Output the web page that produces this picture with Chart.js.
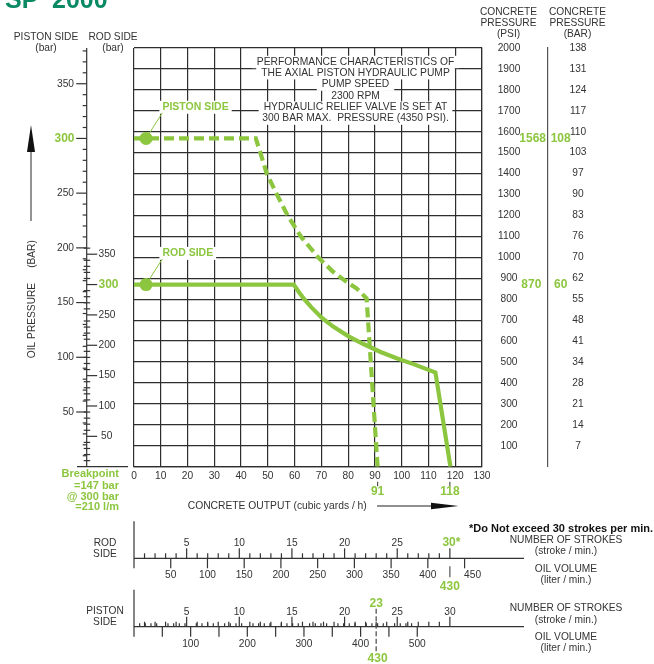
<!DOCTYPE html>
<html>
<head>
<meta charset="utf-8">
<script src="https://cdn.jsdelivr.net/npm/chart.js@4.4.1/dist/chart.umd.min.js"></script>
<style>
  html, body { margin: 0; background: #fff; }
  canvas { display: block; }
</style>
</head>
<body>
<canvas id="chart" width="654" height="664"></canvas>
<script>
const GREEN = '#8cc63f';
const INK = '#333';
const FONT = '"Liberation Sans", Arial, Helvetica, sans-serif';

// concrete output (cubic yards / h) against concrete pressure (psi)
const pistonOutput = [0, 45.5, 47.2, 49.6, 53.4, 57.4, 62.3, 68.8, 74.4, 79.4, 83.1, 86.9, 91];
const pistonPsi    = [1568, 1568, 1500, 1400, 1300, 1200, 1100, 1000, 931, 883, 852, 804, 0];
const rodOutput = [0, 59.7, 61.5, 63.6, 66.2, 70.1, 74.4, 80, 85.7, 91.9, 98.1, 104.4, 109.3, 112.6, 118.2];
const rodPsi    = [870, 870, 836, 800, 762, 712, 669, 624, 586, 549, 518, 490, 466, 450, 0];
const markerOutput = [4.5, 4.5];
const markerPsi = [1568, 870];

// right hand axes: psi ticks and the bar value printed beside each
const psiMax = 2000;
const barLabels = [7, 14, 21, 28, 34, 41, 48, 55, 62, 70, 76, 83, 90, 97, 103, 110, 117, 124, 131, 138];

// left hand oil pressure axes
const pistonBarTicks = [50, 100, 150, 200, 250, 300, 350];
const rodBarTicks = [50, 100, 150, 200, 250, 300, 350];
const PISTON_PSI_PER_BAR = 1568 / 300;
const ROD_PSI_PER_BAR = 870 / 300;

// bottom rulers: strokes and oil volume tied to the output axis
const strokeLabels = [5, 10, 15, 20, 25, 30];
const rodVolumeLabels = [50, 100, 150, 200, 250, 300, 350, 400, 450];
const pistonVolumeLabels = [100, 200, 300, 400, 500];
const OUT_PER_STROKE = 118 / 30;
const ROD_OUT_PER_LITRE = 118 / 430;
const PISTON_OUT_PER_LITRE = 91 / 430;

const noteLines = [
  'PERFORMANCE CHARACTERISTICS OF',
  'THE AXIAL PISTON HYDRAULIC PUMP',
  'PUMP SPEED',
  '2300 RPM',
  'HYDRAULIC RELIEF VALVE IS SET AT',
  '300 BAR MAX.  PRESSURE (4350 PSI).',
];
const noteY = [62, 73.2, 84.6, 96, 107.6, 118.6];

const f = (size, bold) => `${bold ? 'bold ' : ''}${size}px ${FONT}`;

function text(ctx, str, x, y, font, color, align) {
  ctx.font = font;
  ctx.fillStyle = color;
  ctx.textAlign = align || 'center';
  ctx.textBaseline = 'middle';
  ctx.fillText(str, x, y);
}

function line(ctx, x1, y1, x2, y2) {
  ctx.beginPath();
  ctx.moveTo(x1, y1);
  ctx.lineTo(x2, y2);
  ctx.stroke();
}

const annotate = {
  id: 'annotate',
  beforeDatasetsDraw(chart) {
    const ctx = chart.ctx;
    const X = v => chart.scales.x.getPixelForValue(v);
    const Y = v => chart.scales.y.getPixelForValue(v);
    ctx.save();

    // note block, each line knocks out the grid behind it
    ctx.font = f(10.3);
    noteLines.forEach((s, i) => {
      const w = ctx.measureText(s).width;
      ctx.fillStyle = '#fff';
      ctx.fillRect(355.5 - w / 2 - 5, noteY[i] - 6.2, w + 10, 12.4);
    });
    noteLines.forEach((s, i) => text(ctx, s, 355.5, noteY[i], f(10.3), INK));

    // curve labels with leaders to the start markers
    const labels = [['PISTON SIDE', 1717, markerPsi[0]], ['ROD SIDE', 1019, markerPsi[1]]];
    labels.forEach(([s, psi, target]) => {
      const lx = X(10.6), ly = Y(psi);
      ctx.font = f(10.5, true);
      const w = ctx.measureText(s).width;
      ctx.fillStyle = '#fff';
      ctx.fillRect(lx - 3, ly - 6.5, w + 6, 13);
      text(ctx, s, lx, ly, f(10.5, true), GREEN, 'left');
      ctx.strokeStyle = GREEN;
      ctx.lineWidth = 1;
      line(ctx, lx, ly + 5.5, X(markerOutput[0]), Y(target));
    });
    ctx.restore();
  },
  afterDraw(chart) {
    const ctx = chart.ctx;
    const area = chart.chartArea;
    const X = v => chart.scales.x.getPixelForValue(v);
    const Y = v => chart.scales.y.getPixelForValue(v);
    ctx.save();

    // title, cut at the top edge
    text(ctx, 'SP', 5, 1, f(25, true), '#0a8a64', 'left');
    text(ctx, '2000', 52, 1, f(25, true), '#0a8a64', 'left');

    // headers
    text(ctx, 'PISTON SIDE', 46, 37, f(10.2), INK);
    text(ctx, '(bar)', 46, 47.7, f(10.2), INK);
    text(ctx, 'ROD SIDE', 113, 37, f(10.2), INK);
    text(ctx, '(bar)', 113, 48, f(10.2), INK);
    [['CONCRETE', 12.3], ['PRESSURE', 23.3]].forEach(([s, y]) => {
      text(ctx, s, 508.5, y, f(10.2), INK);
      text(ctx, s, 577.5, y, f(10.2), INK);
    });
    text(ctx, '(PSI)', 508.5, 33.7, f(10.2), INK);
    text(ctx, '(BAR)', 577.5, 33.7, f(10.2), INK);

    // green reference values on the pressure axes
    text(ctx, '1568', 532.7, Y(1568), f(12, true), GREEN);
    text(ctx, '108', 560.7, Y(1568), f(12, true), GREEN);
    text(ctx, '870', 531.3, Y(870), f(12, true), GREEN);
    text(ctx, '60', 560.7, Y(870), f(12, true), GREEN);

    // left oil pressure axes (piston side outside, rod side inside)
    const axisX = 86.7;
    ctx.strokeStyle = INK;
    ctx.lineWidth = 1.2;
    line(ctx, axisX, area.top, axisX, area.bottom);
    line(ctx, 77, area.bottom, 128, area.bottom);
    for (let b = 10; b <= 380; b += 10) {
      const y = Y(b * PISTON_PSI_PER_BAR);
      line(ctx, axisX - (b % 50 === 0 ? 10.5 : 4), y, axisX, y);
    }
    pistonBarTicks.forEach(b => {
      const y = Y(b * PISTON_PSI_PER_BAR);
      if (b === 300) text(ctx, '300', 74.5, y, f(12, true), GREEN, 'right');
      else text(ctx, String(b), 74, y, f(10.2), INK, 'right');
    });
    for (let b = 10; b <= 360; b += 10) {
      const y = Y(b * ROD_PSI_PER_BAR);
      if (b % 50 === 0) line(ctx, axisX, y, axisX + 10.5, y);
      else line(ctx, axisX - 3, y, axisX + 3.5, y);
    }
    rodBarTicks.forEach(b => {
      const y = Y(b * ROD_PSI_PER_BAR);
      if (b === 300) text(ctx, '300', 98.5, y, f(12, true), GREEN, 'left');
      else text(ctx, String(b), b === 50 ? 101 : 98.5, y, f(10.2), INK, 'left');
    });

    // rotated axis title and arrow
    ctx.save();
    ctx.translate(32.5, 0);
    ctx.rotate(-Math.PI / 2);
    text(ctx, 'OIL PRESSURE', -320.5, 0, f(10.2), INK);
    text(ctx, '(BAR)', -254, 0, f(10.2), INK);
    ctx.restore();
    ctx.strokeStyle = '#666';
    ctx.lineWidth = 1.4;
    line(ctx, 31, 221, 31, 150);
    ctx.fillStyle = '#111';
    ctx.beginPath();
    ctx.moveTo(31, 125);
    ctx.lineTo(35, 152);
    ctx.lineTo(27, 152);
    ctx.closePath();
    ctx.fill();

    // breakpoint note
    ['Breakpoint', '=147 bar', '@ 300 bar', '=210 l/m'].forEach((s, i) => {
      text(ctx, s, 119, [474, 485.7, 496.7, 507.4][i], f(11, true), GREEN, 'right');
    });

    // 91 / 118 markers under the output axis
    [91, 118].forEach(v => {
      ctx.strokeStyle = '#555';
      ctx.lineWidth = 1.2;
      line(ctx, X(v), area.bottom + 15, X(v), area.bottom + 19.5);
      text(ctx, String(v), X(v), area.bottom + 25, f(12, true), GREEN);
    });

    // output axis title and arrow
    text(ctx, 'CONCRETE OUTPUT (cubic yards / h)', 187.7, 506, f(10.3), INK, 'left');
    ctx.strokeStyle = '#222';
    ctx.lineWidth = 1.2;
    line(ctx, 377, 506, 434, 506);
    ctx.fillStyle = '#111';
    ctx.beginPath();
    ctx.moveTo(431, 502.8);
    ctx.lineTo(458.5, 506);
    ctx.lineTo(431, 509.2);
    ctx.closePath();
    ctx.fill();

    text(ctx, '*Do Not exceed 30 strokes per min.', 653, 529.3, f(11, true), '#111', 'right');

    // bottom rulers
    const S = s => X(s * OUT_PER_STROKE);
    const rulerEnd = 524;
    function ruler(rowY, perLitre, volMax, minorStep, volLabels) {
      ctx.strokeStyle = INK;
      ctx.lineWidth = 1.2;
      line(ctx, X(0), rowY, rulerEnd, rowY);
      line(ctx, X(0), rowY - 37, X(0), rowY + 10);
      for (let s = 1; s <= 30; s++) {
        const len = s % 5 === 0 ? 10 : 5;
        line(ctx, S(s), rowY - len, S(s), rowY);
      }
      for (let v = minorStep; v <= volMax; v += minorStep) {
        const x = X(v * perLitre);
        if (v % 50 === 0) line(ctx, x, rowY, x, rowY + 10);
        else line(ctx, x, rowY - 3.5, x, rowY);
      }
      volLabels.forEach(v => {
        const dx = v === 450 ? 8 : 0;
        text(ctx, String(v), X(v * perLitre) + dx, rowY + 17, f(10.2), INK);
      });
    }

    // rod side
    const rodY = 558.3;
    ruler(rodY, ROD_OUT_PER_LITRE, 450, 50, rodVolumeLabels);
    strokeLabels.forEach(s => {
      if (s === 30) text(ctx, '30*', S(30) - 7.5, rodY - 15.5, f(12, true), GREEN, 'left');
      else text(ctx, String(s), S(s), rodY - 15, f(10.2), INK);
    });
    ctx.strokeStyle = '#555';
    line(ctx, X(430 * ROD_OUT_PER_LITRE), rodY + 8, X(430 * ROD_OUT_PER_LITRE), rodY + 19);
    text(ctx, '430', X(430 * ROD_OUT_PER_LITRE), rodY + 28, f(12, true), GREEN);
    text(ctx, 'ROD', 105, 543.3, f(10.2), INK);
    text(ctx, 'SIDE', 105, 553.8, f(10.2), INK);
    text(ctx, 'NUMBER OF STROKES', 566, 540, f(10.2), INK);
    text(ctx, '(stroke / min.)', 566, 551, f(10.2), INK);
    text(ctx, 'OIL VOLUME', 566, 568.7, f(10.2), INK);
    text(ctx, '(liter / min.)', 566, 579.7, f(10.2), INK);

    // piston side
    const pisY = 626.7;
    ruler(pisY, PISTON_OUT_PER_LITRE, 500, 10, pistonVolumeLabels);
    strokeLabels.forEach(s => text(ctx, String(s), S(s), pisY - 15, f(10.2), INK));
    ctx.strokeStyle = '#555';
    ctx.lineWidth = 1.3;
    ctx.setLineDash([5, 2.5]);
    line(ctx, S(23), pisY - 18, S(23), pisY + 27);
    ctx.setLineDash([]);
    text(ctx, '23', S(23), pisY - 23.4, f(12, true), GREEN);
    text(ctx, '430', X(430 * PISTON_OUT_PER_LITRE), pisY + 31.6, f(12, true), GREEN);
    text(ctx, 'PISTON', 105, 610.7, f(10.2), INK);
    text(ctx, 'SIDE', 105, 621.7, f(10.2), INK);
    text(ctx, 'NUMBER OF STROKES', 566, 608.3, f(10.2), INK);
    text(ctx, '(stroke / min.)', 566, 619.7, f(10.2), INK);
    text(ctx, 'OIL VOLUME', 566, 637.3, f(10.2), INK);
    text(ctx, '(liter / min.)', 566, 647.7, f(10.2), INK);

    ctx.restore();
  }
};

const toPoints = (xs, ys) => xs.map((x, i) => ({ x, y: ys[i] }));

new Chart(document.getElementById('chart'), {
  type: 'line',
  data: {
    datasets: [
      {
        label: 'start',
        data: toPoints(markerOutput, markerPsi),
        showLine: false,
        pointRadius: 6.5,
        pointBackgroundColor: GREEN,
        pointBorderWidth: 0,
      },
      {
        label: 'Rod side',
        data: toPoints(rodOutput, rodPsi),
        borderColor: GREEN,
        borderWidth: 4.2,
        borderJoinStyle: 'miter',
        pointRadius: 0,
        tension: 0,
      },
      {
        label: 'Piston side',
        data: toPoints(pistonOutput, pistonPsi),
        borderColor: GREEN,
        borderWidth: 4.2,
        borderDash: [10, 5],
        borderJoinStyle: 'miter',
        pointRadius: 0,
        tension: 0,
      },
    ],
  },
  options: {
    responsive: false,
    animation: false,
    events: [],
    layout: { padding: { left: 134, top: 48, right: 46.3, bottom: 177.3 } },
    plugins: { legend: { display: false }, tooltip: { enabled: false } },
    scales: {
      x: {
        type: 'linear',
        position: 'bottom',
        min: 0,
        max: 130,
        afterFit: s => { s.height = 20; },
        ticks: { stepSize: 10, color: INK, font: { size: 10.2, family: FONT }, padding: 3, maxRotation: 0, autoSkip: false },
        grid: { color: '#2e2e2e', lineWidth: 1.2, drawTicks: false, tickLength: 0 },
        border: { color: '#2e2e2e', width: 1.2 },
      },
      y: {
        type: 'linear',
        position: 'right',
        weight: 0,
        min: 0,
        max: psiMax,
        afterFit: s => { s.width = 65.7; },
        ticks: {
          stepSize: 100, autoSkip: false, crossAlign: 'center', padding: 15.7,
          color: INK, font: { size: 10.2, family: FONT },
          callback: v => (v === 0 ? '' : v),
        },
        grid: { color: '#2e2e2e', lineWidth: 1.2, drawTicks: false, tickLength: 0 },
        border: { color: '#2e2e2e', width: 1.2 },
      },
      yBar: {
        type: 'linear',
        position: 'right',
        weight: 1,
        min: 0,
        max: psiMax,
        afterFit: s => { s.width = 60; },
        ticks: {
          stepSize: 100, autoSkip: false, crossAlign: 'center', padding: 21.8,
          color: INK, font: { size: 10.2, family: FONT },
          callback: v => (v === 0 ? '' : barLabels[Math.round(v / 100) - 1]),
        },
        grid: { display: false, drawTicks: false, tickLength: 0 },
        border: { display: true, color: '#555', width: 1.2 },
      },
    },
  },
  plugins: [annotate],
});
</script>
</body>
</html>
